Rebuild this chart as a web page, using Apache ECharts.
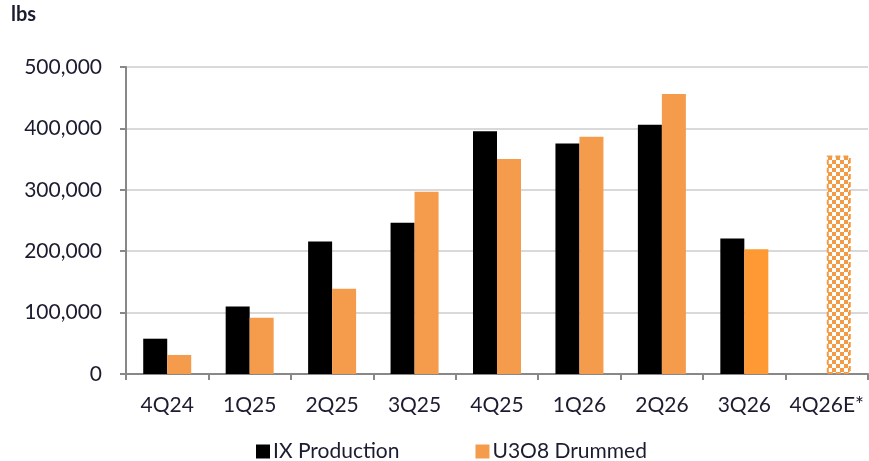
<!DOCTYPE html>
<html>
<head>
<meta charset="utf-8">
<script src="https://cdn.jsdelivr.net/npm/echarts@6/dist/echarts.min.js"></script>
<style>
  html, body { margin: 0; padding: 0; background: #fff; }
  #chart { width: 869px; height: 461px; }
</style>
</head>
<body>
<div id="chart"></div>
<script>
const quarters = ['4Q24', '1Q25', '2Q25', '3Q25', '4Q25', '1Q26', '2Q26', '3Q26', '4Q26E*']
const ixProduction = [57500, 110000, 216000, 246500, 395500, 375500, 406000, 220500, null]
const u3o8Drummed = [31000, 91500, 139000, 297000, 350000, 386500, 456000, 203000, 356000]
const yTicks = [0, 100000, 200000, 300000, 400000, 500000]

const orange = '#F59B4C'
const textColor = '#1c1c30'
const font = 'Lato, "Open Sans", sans-serif'

// checkerboard for the estimate bar
const makeChecker = () => {
  const c = document.createElement('canvas')
  c.width = 8
  c.height = 8
  const ctx = c.getContext('2d')
  ctx.fillStyle = '#fff'
  ctx.fillRect(0, 0, 8, 8)
  ctx.fillStyle = '#F39A45'
  ctx.fillRect(0, 0, 4, 4)
  ctx.fillRect(4, 4, 4, 4)
  return c
}

const drummedData = u3o8Drummed.map((v, i) => {
  if (quarters[i] === '3Q26') return { value: v, itemStyle: { color: '#FF9933' } }
  if (quarters[i] === '4Q26E*') {
    return {
      value: v,
      itemStyle: {
        color: { image: makeChecker(), repeat: 'repeat' },
        borderColor: '#F39A45',
        borderWidth: 2,
        borderType: [5, 3]
      }
    }
  }
  return v
})

const chart = echarts.init(document.getElementById('chart'))
chart.setOption({
  animation: false,
  textStyle: { fontFamily: font },
  graphic: [{
    type: 'text',
    left: 11,
    top: 5,
    style: { text: 'lbs', fontSize: 20, fontWeight: 'bold', fill: textColor, fontFamily: font }
  }],
  grid: { left: 126, right: 1, top: 67, bottom: 87 },
  legend: {
    left: 251,
    top: 436,
    itemWidth: 14,
    itemHeight: 14,
    itemGap: 76,
    icon: 'rect',
    textStyle: { fontSize: 21, color: textColor, fontFamily: font, padding: [0, 0, 0, -2] },
    data: [
      { name: 'IX Production', itemStyle: { color: '#000' } },
      { name: 'U3O8 Drummed', itemStyle: { color: orange } }
    ]
  },
  xAxis: {
    type: 'category',
    data: quarters,
    axisLine: { lineStyle: { color: '#888', width: 2 } },
    axisTick: { show: true, length: 6, lineStyle: { color: '#888', width: 2 } },
    axisLabel: { color: textColor, fontSize: 21, margin: 21, interval: 0, fontFamily: font }
  },
  yAxis: {
    type: 'value',
    min: yTicks[0],
    max: yTicks[yTicks.length - 1],
    interval: yTicks[1] - yTicks[0],
    axisLine: { show: true, lineStyle: { color: '#888', width: 2 } },
    axisTick: { show: true, length: 6, lineStyle: { color: '#888', width: 2 } },
    splitLine: { lineStyle: { color: '#d9d9d9', width: 2 } },
    axisLabel: {
      color: textColor,
      fontSize: 21,
      margin: 24,
      fontFamily: font,
      formatter: v => v.toLocaleString('en-US')
    }
  },
  series: [
    {
      name: 'IX Production',
      type: 'bar',
      data: ixProduction,
      barWidth: 24,
      barGap: '0%',
      itemStyle: { color: '#000' }
    },
    {
      name: 'U3O8 Drummed',
      type: 'bar',
      data: drummedData,
      barWidth: 24,
      itemStyle: { color: orange }
    }
  ]
})
</script>
</body>
</html>
